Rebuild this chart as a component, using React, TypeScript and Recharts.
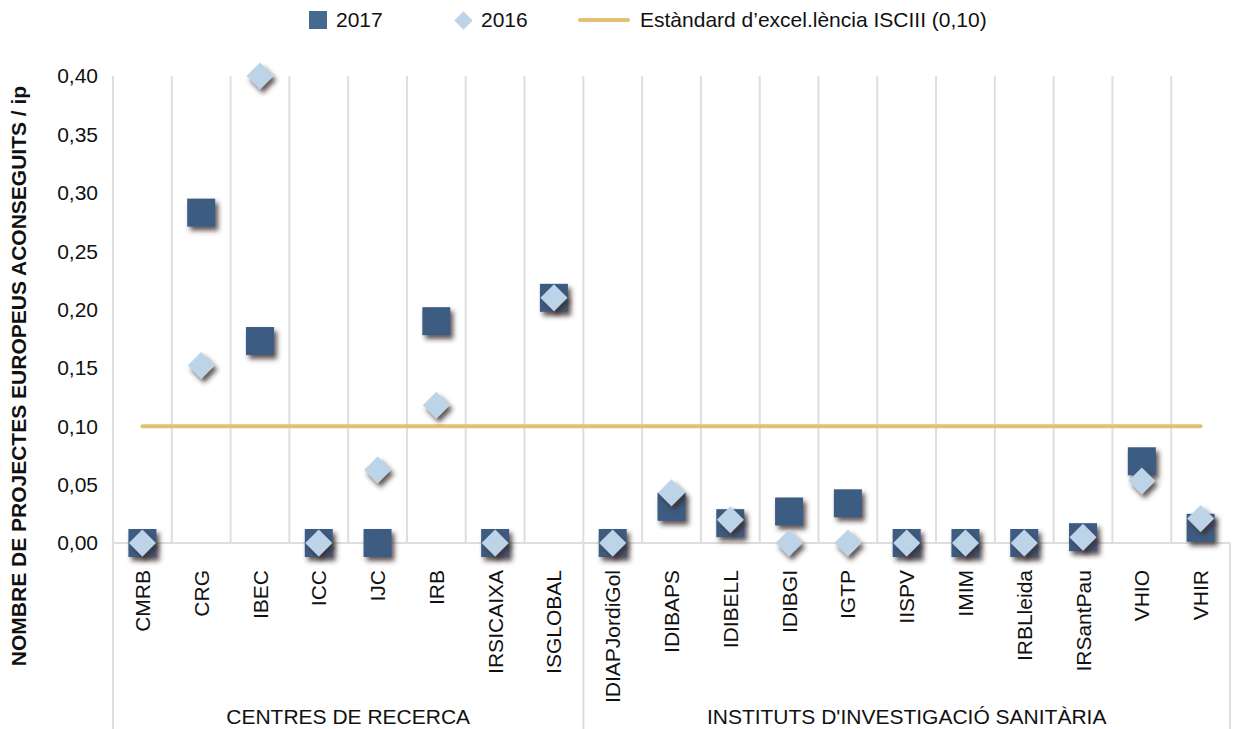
import { ComposedChart, Scatter, Line, XAxis, YAxis, CartesianGrid } from 'recharts'

const categories = [
  'CMRB', 'CRG', 'IBEC', 'ICC', 'IJC', 'IRB', 'IRSICAIXA', 'ISGLOBAL',
  'IDIAPJordiGol', 'IDIBAPS', 'IDIBELL', 'IDIBGI', 'IGTP', 'IISPV', 'IMIM',
  'IRBLleida', 'IRSantPau', 'VHIO', 'VHIR',
]
const groupNames = ['CENTRES DE RECERCA', "INSTITUTS D'INVESTIGACIÓ SANITÀRIA"]
const groupSizes = [8, 11]

const values2017 = [
  0, 0.283, 0.173, 0, 0, 0.19, 0, 0.21,
  0, 0.031, 0.017, 0.027, 0.034, 0, 0, 0, 0.005, 0.07, 0.013,
]
const values2016 = [
  0, 0.152, 0.4, 0, 0.0625, 0.118, 0, 0.21,
  0, 0.043, 0.02, 0, 0, 0, 0, 0, 0.005, 0.053, 0.021,
]
const standard = 0.1
const yTicks = [0, 0.05, 0.1, 0.15, 0.2, 0.25, 0.3, 0.35, 0.4]

const FONT = '"Liberation Sans", Arial, Helvetica, sans-serif'
const DARK = '#3c5c82'
const LIGHT = '#bcd3e8'
const GOLD = '#e2c172'
const GRID = '#dedede'
const CAT_H = 150
const GRP_H = 36

const data = categories.map((name, i) => ({
  name,
  pos: i + 0.5,
  v2017: values2017[i],
  v2016: values2016[i],
  std: standard,
}))

// boundaries and centres of the two groups, in category units
const groupBounds: number[] = [0]
groupSizes.forEach(s => groupBounds.push(groupBounds[groupBounds.length - 1] + s))
const groupMids = groupSizes.map((s, i) => groupBounds[i] + s / 2)
const groupTicks = [...groupBounds, ...groupMids].sort((a, b) => a - b)
const catBounds = categories.map((_, i) => i)

const Square = (props: any) => {
  const { cx, cy } = props
  if (cx == null || cy == null) return null
  return <rect x={cx - 14} y={cy - 14} width={28} height={28} fill={DARK} filter="url(#shadow)" />
}

const Diamond = (props: any) => {
  const { cx, cy } = props
  if (cx == null || cy == null) return null
  const r = 13.5
  return (
    <polygon
      points={`${cx},${cy - r} ${cx + r},${cy} ${cx},${cy + r} ${cx - r},${cy}`}
      fill={LIGHT}
      filter="url(#shadow)"
    />
  )
}

const CategoryTick = (props: any) => {
  const { x, payload } = props
  const y = props.y + 27
  return (
    <text
      x={x}
      y={y}
      dy="0.36em"
      transform={`rotate(-90, ${x}, ${y})`}
      textAnchor="end"
      fontSize={21}
      fontFamily={FONT}
      fill="#111"
    >
      {payload.value}
    </text>
  )
}

const GroupTick = (props: any) => {
  const { x, y, payload } = props
  const gi = groupMids.indexOf(payload.value)
  if (gi >= 0) {
    return (
      <text x={x} y={y + 23} dy="0.36em" textAnchor="middle" fontSize={21} fontFamily={FONT} fill="#111">
        {groupNames[gi]}
      </text>
    )
  }
  return <line x1={x} x2={x} y1={y - CAT_H} y2={y + GRP_H} stroke={GRID} strokeWidth={2} />
}

const YTitle = (props: any) => {
  const { viewBox } = props
  const cx = 18
  const cy = viewBox.y + 300
  return (
    <text
      x={cx}
      y={cy}
      dy="0.36em"
      transform={`rotate(-90, ${cx}, ${cy})`}
      textAnchor="middle"
      fontSize={21}
      fontWeight="bold"
      fontFamily={FONT}
      fill="#111"
    >
      NOMBRE DE PROJECTES EUROPEUS ACONSEGUITS / ip
    </text>
  )
}

const legendText = { position: 'absolute' as const, top: 8, fontSize: 21, fontFamily: FONT, color: '#111', lineHeight: '24px' }

export default function App() {
  return (
    <div style={{ position: 'relative', width: 1235, height: 729, background: '#fff' }}>
      <style>{'body{margin:0}'}</style>
      <div style={{ position: 'absolute', left: 309, top: 11, width: 18, height: 18, background: '#45698f' }} />
      <div style={{ ...legendText, left: 336 }}>2017</div>
      <div
        style={{
          position: 'absolute', left: 457, top: 14, width: 13, height: 13,
          background: LIGHT, transform: 'rotate(45deg)',
        }}
      />
      <div style={{ ...legendText, left: 481 }}>2016</div>
      <div style={{ position: 'absolute', left: 578, top: 18, width: 52, height: 4, borderRadius: 2, background: GOLD }} />
      <div style={{ ...legendText, left: 640 }}>Estàndard d’excel.lència ISCIII (0,10)</div>

      <ComposedChart
        width={1235}
        height={729}
        data={data}
        margin={{ top: 76, right: 5, bottom: 0, left: 0 }}
      >
        <defs>
          <filter id="shadow" x="-60%" y="-60%" width="220%" height="220%">
            <feDropShadow dx={3} dy={4} stdDeviation={2.5} floodColor="#3a2c2c" floodOpacity={0.8} />
          </filter>
        </defs>
        <CartesianGrid
          horizontal={false}
          stroke={GRID}
          strokeWidth={2}
          verticalCoordinatesGenerator={({ offset }: any) =>
            catBounds.map(b => offset.left + (b * offset.width) / categories.length)
          }
        />
        <XAxis
          dataKey="name"
          scale="band"
          interval={0}
          height={CAT_H}
          tick={<CategoryTick />}
          tickLine={false}
          tickSize={0}
          tickMargin={0}
          axisLine={{ stroke: GRID, strokeWidth: 2 }}
        />
        <XAxis
          xAxisId="grp"
          dataKey="pos"
          type="number"
          domain={[0, categories.length]}
          allowDataOverflow
          ticks={groupTicks}
          interval={0}
          height={GRP_H}
          tick={<GroupTick />}
          tickLine={false}
          tickSize={0}
          tickMargin={0}
          axisLine={false}
        />
        <YAxis
          width={113}
          domain={[0, 0.4]}
          ticks={yTicks}
          interval={0}
          tickFormatter={(v: number) => v.toFixed(2).replace('.', ',')}
          tick={{ fontSize: 21, fontFamily: FONT, fill: '#111' }}
          tickLine={false}
          tickSize={0}
          tickMargin={15}
          axisLine={{ stroke: GRID, strokeWidth: 2 }}
          label={{ content: <YTitle /> }}
        />
        <Line
          dataKey="std"
          stroke={GOLD}
          strokeWidth={4}
          strokeLinecap="round"
          dot={false}
          activeDot={false}
          isAnimationActive={false}
        />
        <Scatter dataKey="v2017" shape={<Square />} isAnimationActive={false} />
        <Scatter dataKey="v2016" shape={<Diamond />} isAnimationActive={false} />
      </ComposedChart>
    </div>
  )
}
